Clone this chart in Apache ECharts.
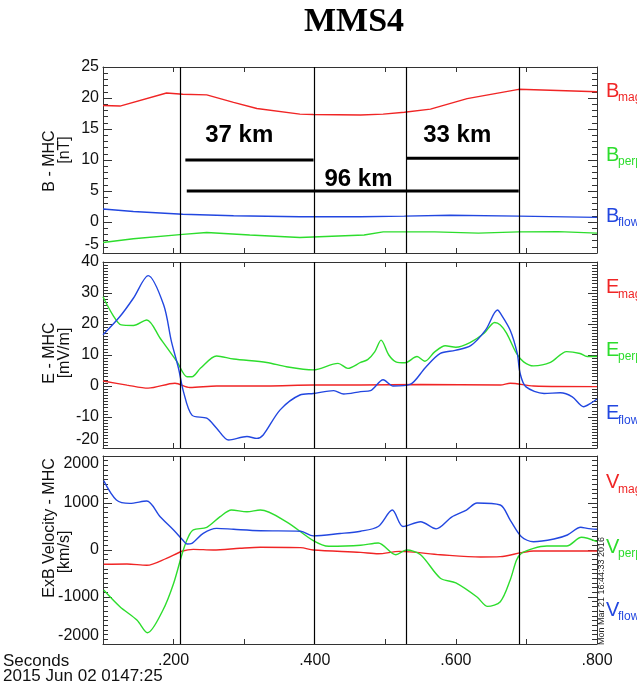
<!DOCTYPE html>
<html>
<head>
<meta charset="utf-8">
<title>MMS4</title>
<script src="https://cdn.jsdelivr.net/npm/echarts@6/dist/echarts.min.js"></script>
<style>
  html, body { margin: 0; padding: 0; background: #fff; }
  #chart { width: 637px; height: 683px; }
</style>
</head>
<body>
<div id="chart"></div>
<script>
// time axis: seconds after 2015 Jun 02 01:47:25
const xMin = 0.1, xMax = 0.8;
const events = [0.2127, 0.3985, 0.5274, 0.6929];

// panel 1: B (nT)
const bMag = [[0.100,18.8],[0.124,18.7],[0.190,20.8],[0.213,20.6],[0.247,20.5],[0.285,19.3],[0.318,18.3],[0.379,17.4],[0.398,17.35],[0.465,17.25],[0.497,17.4],[0.527,17.7],[0.564,18.2],[0.616,19.9],[0.689,21.4],[0.800,21.0]];
const bPerp = [[0.100,-3.3],[0.143,-2.7],[0.213,-2.0],[0.247,-1.7],[0.308,-2.1],[0.379,-2.5],[0.470,-2.1],[0.497,-1.6],[0.570,-1.6],[0.632,-1.8],[0.689,-1.6],[0.745,-1.55],[0.800,-1.8]];
const bFlow = [[0.100,2.1],[0.143,1.7],[0.213,1.25],[0.285,1.0],[0.379,0.85],[0.465,0.85],[0.527,0.95],[0.592,1.1],[0.689,0.95],[0.800,0.75]];

// scale bars drawn on panel 1
const bar37 = [[0.2167,10],[0.3983,10]];
const bar96 = [[0.2187,5],[0.6891,5]];
const bar33 = [[0.5306,10.3],[0.6891,10.3]];
const barLabels = [[0.293,14,'37 km'],[0.602,14,'33 km'],[0.462,6.9,'96 km']];

// panel 2: E (mV/m)
const eMag = [[0.100,1.6],[0.134,0.3],[0.164,-0.7],[0.202,0.9],[0.223,-0.5],[0.261,0],[0.332,0],[0.398,0.3],[0.465,0.3],[0.550,0.5],[0.663,0.3],[0.677,0.9],[0.710,0],[0.800,-0.2]];
const ePerp = [[0.100,28.8],[0.114,22.9],[0.126,19.7],[0.143,19.5],[0.162,21.3],[0.181,15.4],[0.205,7.8],[0.219,3.0],[0.226,3.0],[0.238,5.7],[0.261,9.7],[0.285,8.7],[0.332,7.6],[0.360,6.2],[0.398,5.2],[0.433,7.3],[0.447,5.7],[0.465,7.6],[0.475,8.5],[0.485,11],[0.494,14.8],[0.505,10],[0.515,7.8],[0.528,7.5],[0.545,9.5],[0.556,8],[0.570,11],[0.585,13],[0.600,12.5],[0.620,14],[0.640,17],[0.655,20.5],[0.663,19.7],[0.672,17.0],[0.686,10.5],[0.696,7.8],[0.710,6.5],[0.734,7.6],[0.757,11.1],[0.776,10.5],[0.786,9.5],[0.800,9.5]];
const eFlow = [[0.100,16.5],[0.124,22.4],[0.143,28.3],[0.164,35.6],[0.186,26.1],[0.197,14.3],[0.207,5.7],[0.214,-1.8],[0.226,-9.4],[0.247,-10.4],[0.261,-13.6],[0.278,-17.4],[0.304,-16.3],[0.318,-16.9],[0.327,-15.8],[0.351,-7.7],[0.379,-2.9],[0.398,-2.4],[0.427,-1.5],[0.441,-2.6],[0.465,-1.8],[0.479,-1.5],[0.497,2.0],[0.511,0.0],[0.535,0.5],[0.557,6],[0.578,10.5],[0.599,11.5],[0.621,13],[0.642,18],[0.659,24.5],[0.663,23.5],[0.677,18],[0.687,10.5],[0.691,4.1],[0.699,-0.2],[0.725,-2.4],[0.748,-2.2],[0.765,-3.5],[0.781,-6.7],[0.791,-5.6],[0.800,-4.2]];

// panel 3: ExB velocity (km/s)
const vMag = [[0.101,-304],[0.134,-298],[0.162,-326],[0.190,-177],[0.213,-21],[0.228,14],[0.256,0],[0.294,36],[0.323,57],[0.380,50],[0.398,0],[0.465,-50],[0.490,-80],[0.520,-30],[0.578,-100],[0.635,-150],[0.663,-142],[0.693,-57],[0.710,-21],[0.800,-21]];
const vPerp = [[0.101,-851],[0.124,-1206],[0.148,-1489],[0.163,-1760],[0.185,-1277],[0.200,-713],[0.213,-36],[0.221,283],[0.228,426],[0.247,483],[0.266,709],[0.282,851],[0.304,815],[0.323,851],[0.360,600],[0.398,200],[0.420,80],[0.465,100],[0.490,150],[0.515,-100],[0.530,0],[0.550,-100],[0.578,-600],[0.600,-700],[0.630,-1000],[0.645,-1200],[0.663,-1100],[0.677,-638],[0.686,-213],[0.693,-70],[0.710,36],[0.729,85],[0.757,85],[0.778,270],[0.800,177]];
const vFlow = [[0.101,1475],[0.119,1064],[0.138,993],[0.162,1043],[0.181,709],[0.200,426],[0.213,213],[0.219,128],[0.226,142],[0.242,355],[0.261,461],[0.285,440],[0.323,411],[0.380,400],[0.398,300],[0.436,350],[0.465,400],[0.490,500],[0.510,850],[0.525,500],[0.550,600],[0.572,450],[0.594,700],[0.615,850],[0.630,1000],[0.663,957],[0.677,638],[0.693,283],[0.710,177],[0.739,234],[0.758,319],[0.777,483],[0.786,461],[0.800,440]];

const RED = '#f02525', GREEN = '#2ddd2d', BLUE = '#2247e0';
const AX = '#333';
const FONT = '"Liberation Sans", Arial, Helvetica, sans-serif';

const panels = [
  { top: 67, height: 186, min: -5, max: 25, interval: 5, minor: 5, maxAlign: 'middle',
    names: [['B - MHC', 50, 161], ['[nT]', 65, 150]], sym: 'B',
    series: [[bMag, RED, 'mag', 91], [bPerp, GREEN, 'perp', 155], [bFlow, BLUE, 'flow', 216]], smooth: false },
  { top: 262, height: 186, min: -20, max: 40, interval: 10, minor: 10, maxAlign: 'middle',
    names: [['E - MHC', 50, 353], ['[mV/m]', 65, 353]], sym: 'E',
    series: [[eMag, RED, 'mag', 287.5], [ePerp, GREEN, 'perp', 350], [eFlow, BLUE, 'flow', 413.5]], smooth: 0.3 },
  { top: 456, height: 188, min: -2000, max: 2000, interval: 1000, minor: 10, maxAlign: 'top',
    names: [['ExB Velocity - MHC', 50, 528], ['[km/s]', 65, 552]], sym: 'V',
    series: [[vMag, RED, 'mag', 482.5], [vPerp, GREEN, 'perp', 547], [vFlow, BLUE, 'flow', 610]], smooth: 0.3 }
];

const grid = [], xAxis = [], yAxis = [], series = [], graphic = [];

panels.forEach((p, i) => {
  grid.push({ left: 103, right: 40, top: p.top, height: p.height });
  const xBase = {
    type: 'value', gridIndex: i, min: xMin, max: xMax, interval: 0.1,
    axisLine: { show: true, onZero: false, lineStyle: { color: AX, width: 1 } },
    axisTick: { show: true, inside: true, length: 5, lineStyle: { color: AX } },
    splitLine: { show: false }
  };
  xAxis.push(Object.assign({}, xBase, {
    position: 'bottom',
    axisLabel: {
      show: i === 2, color: '#111', fontSize: 16, fontFamily: FONT, margin: 9,
      formatter: v => {
        const k = Math.round(v * 10);
        return (k % 2 === 0 && k > 1) ? '.' + (k * 100).toString() : '';
      }
    }
  }));
  xAxis.push(Object.assign({}, xBase, { position: 'top', axisLabel: { show: false } }));

  const yBase = {
    type: 'value', gridIndex: i, min: p.min, max: p.max, interval: p.interval,
    axisLine: { show: true, onZero: false, lineStyle: { color: AX, width: 1 } },
    axisTick: { show: true, inside: true, length: 9, lineStyle: { color: AX } },
    minorTick: { show: true, splitNumber: p.minor, length: 5, lineStyle: { color: AX } },
    splitLine: { show: false }, minorSplitLine: { show: false }
  };
  yAxis.push(Object.assign({}, yBase, {
    position: 'left',
    axisLabel: { color: '#111', fontSize: 16, fontFamily: FONT, margin: 4,
      formatter: v => String(v),
      verticalAlignMinLabel: 'bottom', verticalAlignMaxLabel: p.maxAlign }
  }));
  yAxis.push(Object.assign({}, yBase, { position: 'right', axisLabel: { show: false } }));

  p.series.forEach(([data, color, sub, ly], j) => {
    series.push({
      type: 'line', xAxisIndex: 2 * i, yAxisIndex: 2 * i, data: data,
      smooth: p.smooth, symbol: 'none', silent: true,
      lineStyle: { color: color, width: 1.4 },
      markLine: j === 0 ? {
        silent: true, symbol: 'none', label: { show: false },
        lineStyle: { color: '#000', width: 1.2, type: 'solid' },
        data: events.map(e => ({ xAxis: e }))
      } : undefined,
      z: 3
    });
    graphic.push({ type: 'text', x: 606, y: ly, style: { text: p.sym, fill: color, font: '20px ' + FONT, verticalAlign: 'middle', align: 'left' } });
    graphic.push({ type: 'text', x: 618, y: ly + 7, style: { text: sub, fill: color, font: '12px ' + FONT, verticalAlign: 'middle', align: 'left' } });
  });

  p.names.forEach(([t, x, y]) => {
    graphic.push({ type: 'text', x: x, y: y, rotation: Math.PI / 2,
      style: { text: t, fill: '#111', font: '16px ' + FONT, align: 'center', verticalAlign: 'middle' } });
  });
});

// scale bars and their labels on panel 1
[bar37, bar96, bar33].forEach(b => {
  series.push({ type: 'line', xAxisIndex: 0, yAxisIndex: 0, data: b, symbol: 'none', silent: true,
    lineStyle: { color: '#000', width: 3 }, z: 4 });
});
series.push({
  type: 'scatter', xAxisIndex: 0, yAxisIndex: 0, data: barLabels, symbolSize: 0, silent: true,
  itemStyle: { color: '#000', opacity: 1 },
  label: { show: true, position: 'inside', formatter: d => d.data[2], color: '#000', opacity: 1,
    textBorderWidth: 0, textBorderColor: 'transparent', fontSize: 24, fontWeight: 'bold', fontFamily: FONT },
  z: 5
});

graphic.push(
  { type: 'text', x: 354, y: 22, style: { text: 'MMS4', fill: '#000', font: 'bold 34px "Liberation Serif", "Times New Roman", serif', align: 'center', verticalAlign: 'middle' } },
  { type: 'text', x: 3, y: 661, style: { text: 'Seconds', fill: '#111', font: '17px ' + FONT, align: 'left', verticalAlign: 'middle' } },
  { type: 'text', x: 3, y: 676, style: { text: '2015 Jun 02 0147:25', fill: '#111', font: '17px ' + FONT, align: 'left', verticalAlign: 'middle' } },
  { type: 'text', x: 602, y: 591, rotation: Math.PI / 2, style: { text: 'Mon Mar 21 16:44:33 2016', fill: '#222', font: '9px ' + FONT, align: 'center', verticalAlign: 'middle' } }
);

const chart = echarts.init(document.getElementById('chart'), null, { renderer: 'canvas' });
chart.setOption({
  animation: false,
  backgroundColor: '#fff',
  grid: grid, xAxis: xAxis, yAxis: yAxis, series: series, graphic: graphic
});
</script>
</body>
</html>
